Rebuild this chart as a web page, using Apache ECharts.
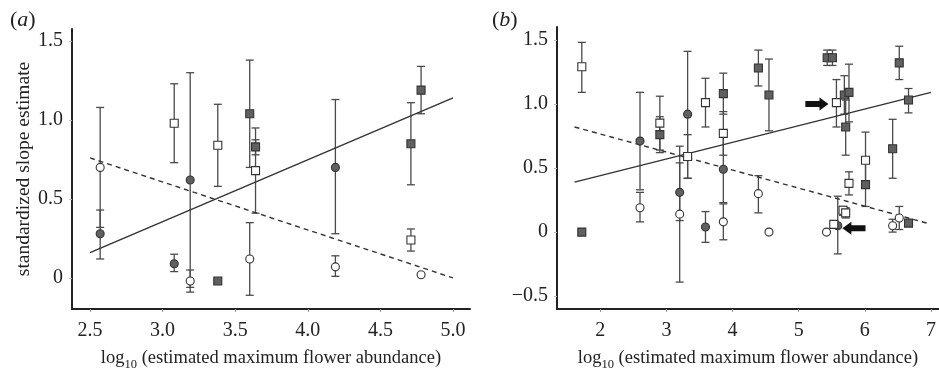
<!DOCTYPE html>
<html>
<head>
<meta charset="utf-8">
<script src="https://cdn.jsdelivr.net/npm/echarts@6/dist/echarts.min.js"></script>
<style>
html, body { margin: 0; padding: 0; background: #fff; }
#chart { width: 939px; height: 376px; }
</style>
</head>
<body>
<div id="chart"></div>
<script>
// rows are [x, estimate, lower, upper]
// panel (a)
var aOpenCircle = [[2.57, 0.70, 0.32, 1.08], [3.19, -0.02, -0.09, 0.05], [3.60, 0.12, -0.11, 0.35], [4.19, 0.07, 0.01, 0.14], [4.78, 0.02, 0.01, 0.03]];
var aFilledCircle = [[2.57, 0.28, 0.12, 0.43], [3.08, 0.09, 0.04, 0.15], [3.19, 0.62, -0.06, 1.30], [4.19, 0.70, 0.28, 1.13]];
var aOpenSquare = [[3.08, 0.98, 0.73, 1.23], [3.38, 0.84, 0.58, 1.10], [3.64, 0.68, 0.41, 0.95], [4.71, 0.24, 0.17, 0.31]];
var aFilledSquare = [[3.38, -0.02, -0.02, -0.02], [3.60, 1.04, 0.70, 1.38], [3.64, 0.83, 0.78, 0.875], [4.71, 0.85, 0.59, 1.11], [4.78, 1.19, 1.04, 1.34]];
var aSolidLine = [[2.5, 0.16], [5.0, 1.14]];
var aDashedLine = [[2.5, 0.76], [5.0, 0.0]];

// panel (b)
var bOpenCircle = [[2.60, 0.19, 0.08, 0.31], [3.20, 0.14, -0.39, 0.67], [3.86, 0.08, -0.06, 0.22], [4.39, 0.30, 0.15, 0.44], [4.55, 0.0, 0.0, 0.0], [5.42, 0.0, 0.0, 0.0], [6.42, 0.05, 0.0, 0.10], [6.52, 0.11, 0.02, 0.20]];
var bFilledCircle = [[2.60, 0.71, 0.33, 1.09], [3.20, 0.31, 0.09, 0.54], [3.32, 0.92, 0.42, 1.41], [3.59, 0.04, -0.08, 0.16], [3.86, 0.49, 0.23, 0.76], [5.59, 0.05, -0.17, 0.28]];
var bOpenSquare = [[1.72, 1.29, 1.09, 1.48], [2.90, 0.85, 0.64, 1.06], [3.32, 0.59, 0.42, 0.76], [3.59, 1.01, 0.82, 1.20], [3.86, 0.77, 0.60, 0.94], [5.53, 0.06, 0.05, 0.07], [5.57, 1.01, 0.82, 1.19], [5.67, 0.17, 0.13, 0.20], [5.71, 0.15, 0.11, 0.19], [5.76, 0.38, 0.29, 0.47], [6.01, 0.56, 0.35, 0.78]];
var bFilledSquare = [[1.72, 0.0, 0.0, 0.0], [2.90, 0.76, 0.62, 0.90], [3.86, 1.08, 0.92, 1.24], [4.39, 1.28, 1.14, 1.42], [4.55, 1.07, 0.79, 1.35], [5.43, 1.36, 1.30, 1.42], [5.51, 1.36, 1.30, 1.42], [5.69, 1.07, 0.92, 1.22], [5.71, 0.82, 0.60, 1.03], [5.76, 1.09, 0.86, 1.31], [6.01, 0.37, 0.20, 0.54], [6.42, 0.65, 0.42, 0.88], [6.52, 1.32, 1.19, 1.45], [6.66, 1.03, 0.93, 1.12], [6.66, 0.07, 0.06, 0.08]];
var bSolidLine = [[1.61, 0.39], [7.0, 1.09]];
var bDashedLine = [[1.61, 0.82], [6.94, 0.07]];
// arrows: [from x, to x, y]
var bArrows = [[5.10, 5.45, 1.0], [6.01, 5.66, 0.03]];

// tick values
var xTicksA = [2.5, 3.0, 3.5, 4.0, 4.5, 5.0];
var yTicksA = [0, 0.5, 1.0, 1.5];
var xTicksB = [2, 3, 4, 5, 6, 7];
var yTicksB = [-0.5, 0, 0.5, 1.0, 1.5];

var serif = '"Liberation Serif", "DejaVu Serif", serif';

var myChart = echarts.init(document.getElementById('chart'));

function pts(rows) {
  return rows.map(function (r) { return [r[0], r[1]]; });
}

//误差线
function errorBars(idx, rows) {
  return {
    type: 'custom',
    xAxisIndex: idx,
    yAxisIndex: idx,
    z: 2,
    silent: true,
    data: rows.map(function (r) { return [r[0], r[2], r[3]]; }),
    encode: { x: 0, y: [1, 2] },
    renderItem: function (params, api) {
      var lo = api.coord([api.value(0), api.value(1)]);
      var hi = api.coord([api.value(0), api.value(2)]);
      var w = 4;
      var st = { stroke: '#4a4a4a', lineWidth: 1.3 };
      return {
        type: 'group',
        children: [
          { type: 'line', shape: { x1: lo[0], y1: lo[1], x2: hi[0], y2: hi[1] }, style: st },
          { type: 'line', shape: { x1: lo[0] - w, y1: lo[1], x2: lo[0] + w, y2: lo[1] }, style: st },
          { type: 'line', shape: { x1: hi[0] - w, y1: hi[1], x2: hi[0] + w, y2: hi[1] }, style: st }
        ]
      };
    }
  };
}

function markers(idx, rows, symbol, filled) {
  return {
    type: 'scatter',
    xAxisIndex: idx,
    yAxisIndex: idx,
    z: 4,
    symbol: symbol,
    symbolSize: 8,
    data: pts(rows),
    itemStyle: {
      color: filled ? '#606060' : '#ffffff',
      borderColor: '#333',
      borderWidth: 1.1,
      opacity: 1
    }
  };
}

function fitLine(idx, rows, dashed) {
  return {
    type: 'line',
    xAxisIndex: idx,
    yAxisIndex: idx,
    z: 3,
    showSymbol: false,
    silent: true,
    data: rows,
    lineStyle: { color: '#333', width: 1.4, type: dashed ? [5, 4] : 'solid' }
  };
}

function xAxis(idx, min, max, ticks, fmt) {
  return {
    type: 'value',
    gridIndex: idx,
    min: min,
    max: max,
    name: '{n|log}{s|10}{n| (estimated maximum flower abundance)}',
    nameLocation: 'middle',
    nameGap: 37,
    nameTextStyle: {
      rich: {
        n: { fontFamily: serif, fontSize: 18.5, color: '#222' },
        s: { fontFamily: serif, fontSize: 12.5, color: '#222', padding: [12, 0, 0, 0] }
      }
    },
    splitLine: { show: false },
    axisLine: { onZero: false, lineStyle: { color: '#222', width: 2 } },
    axisTick: { customValues: ticks, length: 3, lineStyle: { color: '#999' } },
    axisLabel: { customValues: ticks, formatter: fmt, fontFamily: serif, fontSize: 20, color: '#222', margin: 12 }
  };
}

function yAxis(idx, min, max, ticks, fmt, name) {
  return {
    type: 'value',
    gridIndex: idx,
    min: min,
    max: max,
    name: name,
    nameLocation: 'middle',
    nameGap: 35,
    nameTextStyle: { fontFamily: serif, fontSize: 19.5, color: '#222' },
    splitLine: { show: false },
    axisLine: { onZero: false, lineStyle: { color: '#222', width: 2 } },
    axisTick: { customValues: ticks, length: 3, lineStyle: { color: '#bbb' } },
    axisLabel: { customValues: ticks, formatter: fmt, fontFamily: serif, fontSize: 20, color: '#222', margin: 9 }
  };
}

var option = {
  animation: false,
  backgroundColor: '#fff',
  grid: [
    { left: 72, right: 469, top: 29, bottom: 56 },
    { left: 557, right: 0, top: 27, bottom: 55 }
  ],
  xAxis: [
    xAxis(0, 2.376, 5.117, xTicksA, function (v) { return v.toFixed(1); }),
    xAxis(1, 1.345, 7.12, xTicksB, function (v) { return String(Math.round(v)); })
  ],
  yAxis: [
    yAxis(0, -0.197, 1.577, yTicksA, function (v) { return v === 0 ? '0' : v.toFixed(1); }, 'standardized slope estimate'),
    yAxis(1, -0.6, 1.6, yTicksB, function (v) { return v === 0 ? '0' : (v < 0 ? '\u2212' + Math.abs(v).toFixed(1) : v.toFixed(1)); }, '')
  ],
  graphic: [
    { type: 'text', left: 10, top: 9, style: { text: '{p|(}{i|a}{p|)}', rich: { p: { fontFamily: serif, fontSize: 22, fill: '#222' }, i: { fontFamily: serif, fontSize: 22, fontStyle: 'italic', fill: '#222' } } } },
    { type: 'text', left: 492, top: 9, style: { text: '{p|(}{i|b}{p|)}', rich: { p: { fontFamily: serif, fontSize: 22, fill: '#222' }, i: { fontFamily: serif, fontSize: 22, fontStyle: 'italic', fill: '#222' } } } }
  ],
  series: [
    errorBars(0, aOpenCircle.concat(aFilledCircle, aOpenSquare, aFilledSquare)),
    fitLine(0, aSolidLine, false),
    fitLine(0, aDashedLine, true),
    markers(0, aOpenCircle, 'circle', false),
    markers(0, aFilledCircle, 'circle', true),
    markers(0, aOpenSquare, 'rect', false),
    markers(0, aFilledSquare, 'rect', true),

    errorBars(1, bOpenCircle.concat(bFilledCircle, bOpenSquare, bFilledSquare)),
    fitLine(1, bSolidLine, false),
    fitLine(1, bDashedLine, true),
    markers(1, bOpenCircle, 'circle', false),
    markers(1, bFilledCircle, 'circle', true),
    markers(1, bOpenSquare, 'rect', false),
    markers(1, bFilledSquare, 'rect', true),
    {
      //箭头
      type: 'custom',
      xAxisIndex: 1,
      yAxisIndex: 1,
      z: 5,
      silent: true,
      data: bArrows,
      encode: { x: [0, 1], y: 2 },
      renderItem: function (params, api) {
        var a = api.coord([api.value(0), api.value(2)]);
        var b = api.coord([api.value(1), api.value(2)]);
        var d = b[0] > a[0] ? 1 : -1;
        var head = 9, sh = 3, hh = 6.5;
        var nx = b[0] - d * head;
        return {
          type: 'polygon',
          shape: {
            points: [
              [a[0], a[1] - sh], [nx, a[1] - sh], [nx, a[1] - hh], [b[0], a[1]],
              [nx, a[1] + hh], [nx, a[1] + sh], [a[0], a[1] + sh]
            ]
          },
          style: { fill: '#111' }
        };
      }
    }
  ]
};

myChart.setOption(option);
</script>
</body>
</html>
